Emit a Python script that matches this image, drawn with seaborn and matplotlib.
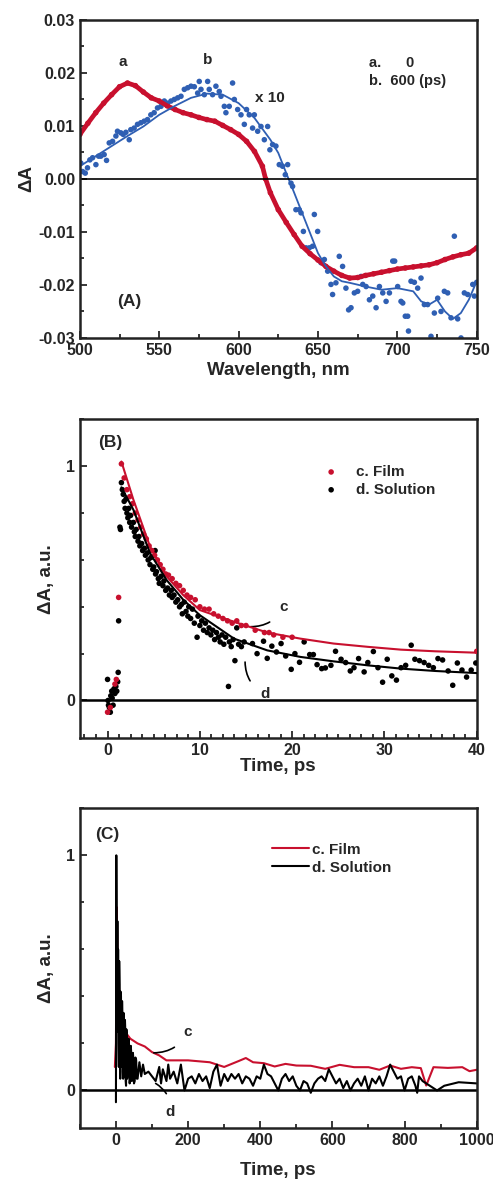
import numpy as np
import pandas as pd
import matplotlib
matplotlib.use("Agg")
import matplotlib.pyplot as plt
import seaborn as sns
from matplotlib.ticker import MultipleLocator

# ===================== 数据：面板 A（瞬态吸收光谱） =====================
# a. 0 ps（红色，密集点）
wl_a = [500, 505, 510, 515, 520, 525, 530, 535, 540, 545, 550, 555, 560, 565, 570,
        575, 580, 585, 590, 595, 600, 605, 610, 615, 617, 620, 625, 630, 635, 640,
        645, 650, 655, 660, 665, 670, 675, 680, 685, 690, 695, 700, 705, 710, 715,
        720, 725, 730, 735, 740, 745, 750]
dA_a = [0.0084, 0.0105, 0.0125, 0.0143, 0.0159, 0.0174, 0.0181, 0.0176, 0.0164, 0.0153,
        0.0147, 0.0138, 0.0131, 0.0125, 0.0121, 0.0116, 0.0112, 0.0109, 0.0101, 0.0093,
        0.0084, 0.0071, 0.0052, 0.0024, 0.0000, -0.0026, -0.0058, -0.0082, -0.0105, -0.0127,
        -0.0141, -0.0153, -0.0165, -0.0174, -0.0182, -0.0187, -0.0186, -0.0182, -0.0179, -0.0176,
        -0.0173, -0.0170, -0.0168, -0.0166, -0.0164, -0.0162, -0.0158, -0.0152, -0.0147, -0.0143,
        -0.0140, -0.0130]

# b. 600 ps x10（蓝色散点）
wl_b = [500.6, 501.7, 503.4, 504.8, 506.3, 508.0, 510.1, 511.8, 513.2, 515.3, 516.8, 518.5,
        520.6, 522.7, 523.7, 525.8, 527.3, 529.0, 531.1, 532.1, 534.2, 536.3, 538.4, 540.5,
        542.6, 544.7, 546.8, 548.9, 551.1, 553.2, 555.3, 557.4, 559.5, 561.6, 563.7, 565.8,
        567.9, 570.0, 572.1, 574.2, 575.2, 576.3, 578.4, 580.5, 581.5, 583.6, 585.7, 587.8,
        588.9, 591.0, 592.0, 594.1, 596.2, 597.3, 599.4, 601.5, 603.6, 605.0, 606.7, 608.8,
        609.9, 612.0, 614.1, 616.2, 618.3, 619.7, 621.4, 623.5, 625.6, 627.7, 629.4, 630.9,
        633.0, 634.0, 636.1, 638.2, 639.3, 640.8, 642.4, 644.5, 646.6, 647.7, 649.8, 651.9,
        654.0, 656.1, 658.2, 659.2, 661.3, 663.4, 665.5, 667.6, 669.3, 670.8, 672.9, 675.0,
        677.1, 678.2, 680.3, 682.4, 684.5, 686.6, 688.7, 690.8, 692.9, 695.0, 697.1, 698.3,
        700.2, 702.3, 703.4, 705.0, 706.5, 707.0, 708.6, 710.7, 712.8, 714.9, 717.0, 719.1,
        721.2, 723.3, 725.4, 727.5, 729.6, 731.7, 733.8, 735.9, 738.0, 740.1, 742.2, 744.3,
        747.5, 748.5, 750.0]
dA_b = [0.0030, 0.0014, 0.0011, 0.0021, 0.0036, 0.0040, 0.0027, 0.0043, 0.0043, 0.0046, 0.0035, 0.0068,
        0.0071, 0.0081, 0.0090, 0.0087, 0.0084, 0.0088, 0.0074, 0.0093, 0.0096, 0.0103, 0.0106, 0.0109,
        0.0112, 0.0121, 0.0125, 0.0134, 0.0137, 0.0147, 0.0143, 0.0147, 0.0150, 0.0153, 0.0156, 0.0169,
        0.0172, 0.0175, 0.0174, 0.0162, 0.0184, 0.0169, 0.0159, 0.0184, 0.0169, 0.0159, 0.0175, 0.0165,
        0.0156, 0.0137, 0.0125, 0.0137, 0.0181, 0.0150, 0.0131, 0.0121, 0.0103, 0.0131, 0.0121, 0.0096,
        0.0121, 0.0090, 0.0099, 0.0074, 0.0099, 0.0055, 0.0065, 0.0062, 0.0027, 0.0024, 0.0008, 0.0027,
        -0.0008, -0.0014, -0.0058, -0.0058, -0.0064, -0.0099, -0.0130, -0.0130, -0.0127, -0.0067, -0.0099, -0.0158,
        -0.0152, -0.0174, -0.0199, -0.0218, -0.0196, -0.0146, -0.0165, -0.0206, -0.0247, -0.0243, -0.0215, -0.0212,
        -0.0184, -0.0199, -0.0203, -0.0228, -0.0221, -0.0243, -0.0203, -0.0215, -0.0231, -0.0215, -0.0155, -0.0155,
        -0.0203, -0.0231, -0.0234, -0.0259, -0.0259, -0.0287, -0.0193, -0.0195, -0.0206, -0.0187, -0.0237, -0.0237,
        -0.0297, -0.0253, -0.0225, -0.0250, -0.0212, -0.0215, -0.0262, -0.0108, -0.0264, -0.0300, -0.0215, -0.0218,
        -0.0199, -0.0221, -0.0195]

# b 的平滑拟合线
wl_bfit = [500, 510, 520, 530, 540, 550, 560, 570, 580, 590, 600, 610, 620, 625, 630, 635, 640,
           645, 650, 655, 660, 665, 670, 680, 690, 700, 710, 715, 720, 725, 730, 735, 740, 745, 750]
dA_bfit = [0.0024, 0.0043, 0.0062, 0.0081, 0.0099, 0.0121, 0.0138, 0.0153, 0.0161, 0.0159, 0.0143,
           0.0115, 0.0074, 0.0049, 0.0011, -0.0026, -0.0064, -0.0102, -0.0140, -0.0165, -0.0184, -0.0193,
           -0.0196, -0.0203, -0.0209, -0.0206, -0.0212, -0.0231, -0.0237, -0.0228, -0.0250, -0.0264,
           -0.0253, -0.0228, -0.0193]

# ===================== 数据：面板 B（0-40 ps 动力学） =====================
t_film = [0.0, 0.3, 0.8, 0.95, 1.2, 1.5, 1.8, 2.1, 2.4, 2.7, 3.0, 3.3, 3.6, 3.9, 4.2, 4.5, 4.8,
          5.1, 5.4, 5.7, 6.0, 6.3, 6.6, 7.0, 7.4, 7.8, 8.2, 8.6, 9.0, 9.5, 10.0, 10.5, 11.0,
          11.5, 12.0, 12.5, 13.0, 13.5, 14.0, 14.5, 15.0, 16.0, 17.0, 17.5, 18.0, 19.0, 20.0, 40.0]
y_film = [-0.05, -0.03, 0.07, 0.09, 0.44, 1.01, 0.95, 0.90, 0.87, 0.84, 0.80, 0.77, 0.74, 0.71,
          0.69, 0.66, 0.64, 0.62, 0.60, 0.58, 0.56, 0.54, 0.535, 0.52, 0.50, 0.49, 0.47, 0.45,
          0.44, 0.43, 0.40, 0.39, 0.39, 0.37, 0.36, 0.35, 0.34, 0.33, 0.34, 0.32, 0.32, 0.30,
          0.29, 0.29, 0.28, 0.27, 0.27, 0.21]

t_sol = [0.0, 0.05, 0.1, 0.2, 0.3, 0.35, 0.45, 0.5, 0.6, 0.7, 0.8, 0.9, 1.0, 1.1, 1.15, 1.2,
         1.34, 1.4, 1.5, 1.6, 1.7, 1.8, 1.9, 2.0, 2.1, 2.2, 2.3, 2.4, 2.5, 2.6, 2.8, 2.9, 3.0,
         3.1, 3.3, 3.4, 3.5, 3.7, 3.8, 4.0, 4.1, 4.3, 4.4, 4.6, 4.7, 4.9, 5.0, 5.15, 5.2, 5.3,
         5.5, 5.6, 5.8, 6.0, 6.1, 6.3, 6.5, 6.7, 6.9, 7.0, 7.2, 7.4, 7.6, 7.8, 8.0, 8.1, 8.3,
         8.5, 8.7, 8.8, 9.0, 9.2, 9.4, 9.7, 9.8, 10.0, 10.2, 10.4, 10.6, 10.8, 11.0, 11.2, 11.4,
         11.6, 11.8, 12.0, 12.2, 12.4, 12.6, 12.8, 13.1, 13.2, 13.4, 13.6, 13.8, 14.0, 14.2,
         14.5, 14.8, 15.7, 16.2, 16.9, 17.3, 17.8, 18.3, 18.8, 19.3, 19.9, 20.3, 20.8, 21.3,
         21.9, 22.3, 22.7, 23.2, 23.6, 24.2, 24.7, 25.3, 25.8, 26.3, 26.7, 27.2, 27.8, 28.2,
         28.8, 29.3, 29.8, 30.3, 30.8, 31.3, 31.8, 32.3, 32.9, 33.3, 33.8, 34.3, 34.8, 35.3,
         35.8, 36.3, 36.9, 37.4, 37.9, 38.4, 38.9, 39.4, 39.9]
y_sol = [0.09, 0.0, -0.02, -0.03, -0.05, 0.02, 0.04, 0.01, -0.02, 0.05, 0.03, 0.06, 0.04, 0.08,
         0.12, 0.34, 0.74, 0.73, 0.93, 0.90, 0.88, 0.85, 0.82, 0.86, 0.80, 0.78, 0.82, 0.76, 0.79,
         0.74, 0.76, 0.72, 0.70, 0.73, 0.68, 0.70, 0.66, 0.67, 0.64, 0.65, 0.62, 0.63, 0.60, 0.58,
         0.61, 0.56, 0.57, 0.64, 0.54, 0.55, 0.52, 0.50, 0.53, 0.49, 0.51, 0.47, 0.48, 0.45, 0.47,
         0.44, 0.45, 0.42, 0.43, 0.40, 0.41, 0.37, 0.42, 0.38, 0.36, 0.40, 0.35, 0.39, 0.33, 0.27,
         0.36, 0.32, 0.34, 0.30, 0.33, 0.29, 0.31, 0.28, 0.30, 0.26, 0.29, 0.27, 0.25, 0.28, 0.24,
         0.27, 0.06, 0.25, 0.23, 0.26, 0.17, 0.31, 0.24, 0.23, 0.25, 0.243, 0.20, 0.253, 0.18,
         0.232, 0.207, 0.243, 0.19, 0.133, 0.20, 0.163, 0.25, 0.196, 0.196, 0.153, 0.136, 0.139,
         0.15, 0.21, 0.176, 0.162, 0.126, 0.14, 0.179, 0.122, 0.162, 0.209, 0.14, 0.078, 0.176,
         0.105, 0.087, 0.14, 0.15, 0.236, 0.176, 0.17, 0.162, 0.15, 0.14, 0.179, 0.173, 0.126,
         0.065, 0.16, 0.13, 0.10, 0.13, 0.16]

# 拟合曲线
t_fit = [1.5, 2.8, 4.6, 6.4, 8.2, 10.0, 13.7, 17.3, 20.9, 24.5, 28.2, 31.8, 35.5, 40.0]
film_fit = [1.02, 0.857, 0.657, 0.53, 0.45, 0.386, 0.336, 0.29, 0.264, 0.243, 0.229, 0.217, 0.21, 0.204]
sol_fit = [0.91, 0.814, 0.629, 0.514, 0.43, 0.364, 0.264, 0.214, 0.186, 0.167, 0.15, 0.136, 0.126, 0.117]

# ===================== 数据：面板 C（0-1000 ps 动力学） =====================
tc_film = [-3, 0, 2, 5, 8, 12, 16, 20, 30, 40, 60, 80, 100, 120, 140, 200, 260, 300, 340, 360,
           380, 410, 440, 470, 500, 540, 580, 620, 660, 700, 730, 760, 790, 820, 845, 860, 880,
           920, 960, 980, 1000]
yc_film = [0.10, 0.20, 0.78, 0.55, 0.45, 0.36, 0.31, 0.27, 0.24, 0.22, 0.20, 0.187, 0.163, 0.149,
           0.128, 0.128, 0.12, 0.10, 0.125, 0.138, 0.12, 0.116, 0.102, 0.113, 0.106, 0.105, 0.092,
           0.109, 0.099, 0.099, 0.088, 0.106, 0.092, 0.099, 0.095, 0.021, 0.099, 0.096, 0.099,
           0.082, 0.088]

tc_sol = [0, 1, 3, 4, 5, 6, 7, 8, 9, 10, 11, 12, 13, 14, 15, 16, 17, 18, 19, 20, 21, 22, 23, 24,
          25, 26, 27, 28, 29, 30, 31, 33, 35, 36, 38, 39, 41, 42, 44, 45, 47, 48, 50,
          52, 54, 56, 58, 60, 65, 70, 75, 80, 90, 100, 110, 120, 125, 130, 140, 145, 150, 160, 170, 180,
          190, 200, 210, 220, 230, 240, 250, 260, 270, 280, 290, 300, 310, 320, 330, 340, 350,
          360, 370, 380, 390, 400, 410, 420, 430, 440, 450, 460, 470, 480, 490, 500, 510, 520,
          530, 540, 550, 560, 570, 580, 590, 600, 610, 620, 630, 640, 650, 660, 670, 680, 690,
          700, 710, 720, 730, 740, 750, 760, 770, 780, 790, 800, 810, 820, 830, 835, 840, 850,
          870, 890, 910, 950, 1000]
yc_sol = [-0.05, 1.0, 0.30, 0.72, 0.25, 0.60, 0.20, 0.10, 0.55, 0.45, 0.12, 0.05, 0.42, 0.40,
          0.10, 0.15, 0.38, 0.30, 0.08, 0.05, 0.33, 0.28, 0.06, 0.10, 0.30, 0.25, 0.04, 0.02, 0.26,
          0.22, 0.05, 0.08, 0.22, 0.20, 0.03, 0.05, 0.19, 0.17, 0.04, 0.06, 0.16, 0.14, 0.03,
          0.04, 0.14, 0.13, 0.05, 0.05, 0.12, 0.06, 0.11,
          0.07, 0.08, 0.06, 0.04, 0.10, 0.03, 0.09, 0.04, 0.11, 0.05, 0.08, 0.03, 0.11, 0.00, 0.05,
          0.06, 0.03, 0.07, 0.04, 0.06, 0.01, 0.08, 0.11, 0.02, 0.07, 0.04, 0.07, 0.05, 0.07, 0.03,
          0.06, 0.05, 0.02, 0.06, 0.05, 0.11, 0.07, 0.06, 0.03, 0.00, 0.05, 0.07, 0.04, 0.06, 0.02,
          0.00, 0.04, 0.03, -0.01, 0.03, 0.05, 0.06, 0.04, 0.09, 0.06, 0.03, 0.05, 0.01, 0.04, 0.00,
          0.03, 0.05, 0.02, 0.06, 0.00, 0.05, 0.03, 0.06, 0.02, 0.06, 0.11, 0.08, 0.05, 0.06, 0.00,
          0.05, 0.06, 0.02, -0.01, 0.06, 0.04, 0.02, 0.00, 0.02, 0.035, 0.03]

# ===================== 样式 =====================
RED = "#c8102e"
BLUE = "#2f5fb3"
sns.set_style("ticks")
plt.rcParams["font.family"] = ["Liberation Sans", "DejaVu Sans"]
plt.rcParams["font.weight"] = "bold"
plt.rcParams["axes.labelweight"] = "bold"
plt.rcParams["axes.linewidth"] = 1.8

TICK_FS = 11.5
LABEL_FS = 13.5


def style_axes(ax):
    ax.tick_params(which="both", direction="in", top=False, right=False,
                   labelsize=TICK_FS, width=1.3)
    ax.tick_params(which="major", length=5)
    ax.tick_params(which="minor", length=3)
    for s in ax.spines.values():
        s.set_visible(True)
        s.set_linewidth(1.8)
        s.set_color("#222222")


fig = plt.figure(figsize=(4.93, 11.8), dpi=100)
axA = fig.add_axes([0.162, 0.7136, 0.805, 0.2695])
axB = fig.add_axes([0.162, 0.3746, 0.805, 0.270])
axC = fig.add_axes([0.162, 0.044, 0.805, 0.271])

# ---------- 面板 A ----------
dfa = pd.DataFrame({"wl": wl_a, "dA": dA_a})
sns.lineplot(data=dfa, x="wl", y="dA", ax=axA, color=RED, lw=3.4, estimator=None)
sns.scatterplot(data=dfa, x="wl", y="dA", ax=axA, color=RED, s=16, edgecolor="none")
dfb = pd.DataFrame({"wl": wl_b, "dA": dA_b})
sns.scatterplot(data=dfb, x="wl", y="dA", ax=axA, color=BLUE, s=16, edgecolor="none")
dfbf = pd.DataFrame({"wl": wl_bfit, "dA": dA_bfit})
sns.lineplot(data=dfbf, x="wl", y="dA", ax=axA, color=BLUE, lw=1.3, estimator=None)
axA.axhline(0, color="black", lw=1.2)
axA.set_xlim(500, 750)
axA.set_ylim(-0.03, 0.03)
axA.xaxis.set_major_locator(MultipleLocator(50))
axA.xaxis.set_minor_locator(MultipleLocator(25))
axA.yaxis.set_major_locator(MultipleLocator(0.01))
axA.yaxis.set_minor_locator(MultipleLocator(0.005))
axA.yaxis.set_major_formatter(plt.FuncFormatter(lambda v, p: f"{v:.2f}"))
axA.set_xlabel("Wavelength, nm", fontsize=LABEL_FS, labelpad=3)
axA.set_ylabel("ΔA", fontsize=LABEL_FS, labelpad=2)
style_axes(axA)
axA.text(527, 0.0221, "a", ha="center", va="center", fontsize=11, fontweight="bold")
axA.text(580.3, 0.0225, "b", ha="center", va="center", fontsize=11, fontweight="bold")
axA.text(620, 0.0153, "x 10", ha="center", va="center", fontsize=11, fontweight="bold")
axA.text(682, 0.0219, "a.      0", ha="left", va="center", fontsize=10.5, fontweight="bold")
axA.text(682, 0.0184, "b.  600 (ps)", ha="left", va="center", fontsize=10.5, fontweight="bold")
axA.text(531, -0.0231, "(A)", ha="center", va="center", fontsize=12.5, fontweight="bold")

# ---------- 面板 B ----------
dff = pd.DataFrame({"t": t_film, "y": y_film})
dfs = pd.DataFrame({"t": t_sol, "y": y_sol})
sns.scatterplot(data=dfs, x="t", y="y", ax=axB, color="black", s=16, edgecolor="none",
                label="d. Solution", zorder=3)
sns.scatterplot(data=dff, x="t", y="y", ax=axB, color=RED, s=16, edgecolor="none",
                label="c. Film", zorder=4)
dfit = pd.DataFrame({"t": t_fit, "film": film_fit, "sol": sol_fit})
sns.lineplot(data=dfit, x="t", y="film", ax=axB, color=RED, lw=1.5, estimator=None, zorder=5)
sns.lineplot(data=dfit, x="t", y="sol", ax=axB, color="black", lw=1.5, estimator=None, zorder=5)
axB.axhline(0, color="black", lw=1.8)
axB.set_xlim(-3, 40)
axB.set_ylim(-0.16, 1.2)
axB.xaxis.set_major_locator(MultipleLocator(10))
axB.xaxis.set_minor_locator(MultipleLocator(1.25))
axB.yaxis.set_major_locator(MultipleLocator(1))
axB.yaxis.set_minor_locator(MultipleLocator(0.2))
axB.set_xlabel("Time, ps", fontsize=LABEL_FS, labelpad=0)
axB.set_ylabel("ΔA, a.u.", fontsize=LABEL_FS, labelpad=8)
style_axes(axB)
h, l = axB.get_legend_handles_labels()
axB.legend(h[::-1], l[::-1], loc="upper left", bbox_to_anchor=(0.56, 0.9), frameon=False,
           fontsize=11, handletextpad=0.6, labelspacing=0.25, markerscale=1.0)
axB.text(0.3, 1.1, "(B)", ha="center", va="center", fontsize=12.5, fontweight="bold")
axB.annotate("c", xy=(15.5, 0.315), xytext=(19.1, 0.40), fontsize=11, fontweight="bold",
             ha="center", va="center",
             arrowprops=dict(arrowstyle="-", lw=1.2, color="black",
                             connectionstyle="arc3,rad=-0.3", shrinkA=6, shrinkB=0))
axB.annotate("d", xy=(14.9, 0.164), xytext=(17.1, 0.026), fontsize=11, fontweight="bold",
             ha="center", va="center",
             arrowprops=dict(arrowstyle="-", lw=1.2, color="black",
                             connectionstyle="arc3,rad=-0.3", shrinkA=8, shrinkB=0))

# ---------- 面板 C ----------
dcf = pd.DataFrame({"t": tc_film, "y": yc_film})
dcs = pd.DataFrame({"t": tc_sol, "y": yc_sol})
sns.lineplot(data=dcf, x="t", y="y", ax=axC, color=RED, lw=1.5, estimator=None, sort=False,
             label="c. Film")
sns.lineplot(data=dcs, x="t", y="y", ax=axC, color="black", lw=1.5, estimator=None, sort=False,
             label="d. Solution")
axC.axhline(0, color="black", lw=1.8)
axC.set_xlim(-100, 1000)
axC.set_ylim(-0.16, 1.2)
axC.xaxis.set_major_locator(MultipleLocator(200))
axC.xaxis.set_minor_locator(MultipleLocator(100))
axC.yaxis.set_major_locator(MultipleLocator(1))
axC.yaxis.set_minor_locator(MultipleLocator(0.2))
axC.set_xlabel("Time, ps", fontsize=LABEL_FS, labelpad=10)
axC.set_ylabel("ΔA, a.u.", fontsize=LABEL_FS, labelpad=8)
style_axes(axC)
axC.legend(loc="upper left", bbox_to_anchor=(0.45, 0.935), frameon=False, fontsize=11,
           handlelength=2.4, handletextpad=0.2, labelspacing=0.25)
axC.text(-25, 1.09, "(C)", ha="center", va="center", fontsize=12.5, fontweight="bold")
axC.annotate("c", xy=(105, 0.16), xytext=(200, 0.25), fontsize=11, fontweight="bold",
             ha="center", va="center",
             arrowprops=dict(arrowstyle="-", lw=1.2, color="black",
                             connectionstyle="arc3,rad=-0.3", shrinkA=6, shrinkB=0))
axC.annotate("d", xy=(110, 0.03), xytext=(151, -0.09), fontsize=11, fontweight="bold",
             ha="center", va="center",
             arrowprops=dict(arrowstyle="-", lw=1.2, color="black",
                             connectionstyle="arc3,rad=0.3", shrinkA=6, shrinkB=0))

fig.savefig("out.png", dpi=100)
